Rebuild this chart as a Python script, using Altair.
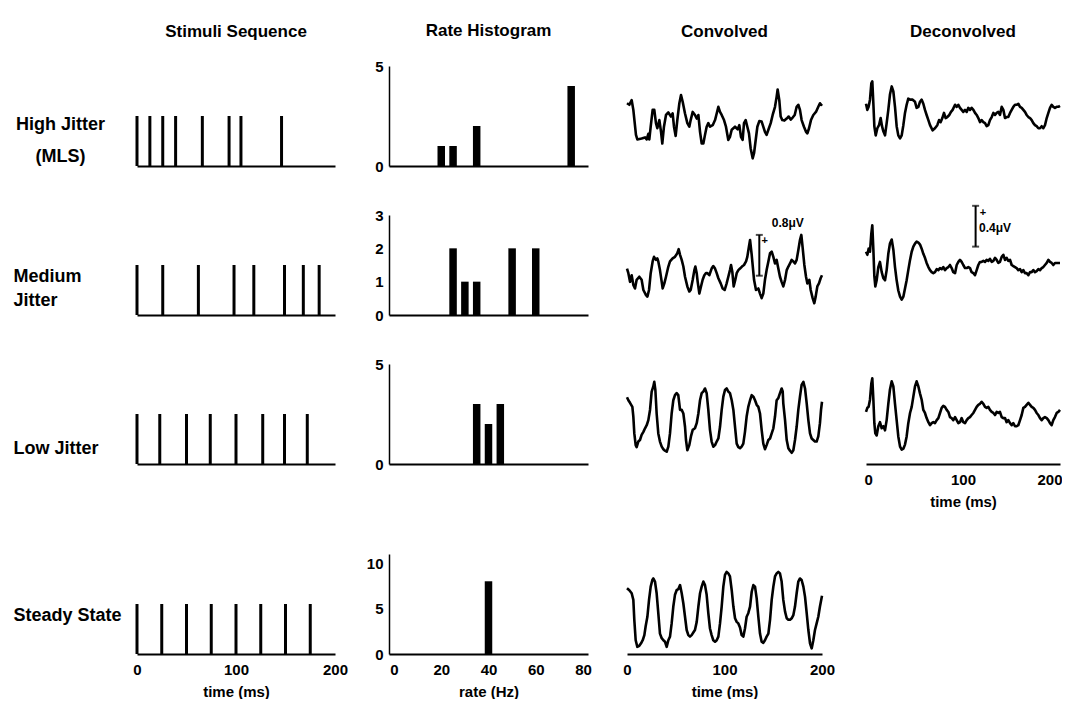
import altair as alt
import pandas as pd

FONT = "Liberation Sans"

# ---------------- text ----------------
COL_TITLES = ["Stimuli Sequence", "Rate Histogram", "Convolved", "Deconvolved"]
ROW_LABELS = [["High Jitter", "(MLS)"], ["Medium", "Jitter"], "Low Jitter", "Steady State"]

# ---------------- column 1: stimulus onset times (ms) ----------------
stim_high = [0, 13, 26, 39, 66, 93, 105, 146]
stim_medium = [0, 26, 62, 98, 118, 149, 168, 184]
stim_low = [0, 23, 50, 74, 100, 127, 149, 172]
stim_steady = [0, 25, 50, 75, 100, 125, 150, 175]
stim_amp = 1

# ---------------- column 2: rate histograms ----------------
rate_high = [20, 25, 35, 75]
count_high = [1, 1, 2, 4]
rate_medium = [25, 30, 35, 50, 60]
count_medium = [2, 1, 1, 2, 2]
rate_low = [35, 40, 45]
count_low = [3, 2, 3]
rate_steady = [40]
count_steady = [8]
hist_ymax = [5, 3, 5, 11]
hist_yticks = [[0, 5], [0, 1, 2, 3], [0, 5], [0, 5, 10]]
rate_ticks = [0, 20, 40, 60, 80]
time_ticks = [0, 100, 200]

# ---------------- column 3: convolved responses (uV) ----------------
conv_high_t = [0, 2.4, 4.8, 6.5, 9.2, 10.6, 15, 18.5, 20.2, 21.9,
               22.9, 24.3, 26.3, 28, 29.7, 31.1, 33.2, 34.9, 36.2, 37.9,
               40, 42.4, 45.1, 46.8, 48.2, 49.9, 51.6, 53.7, 55.4, 57.1,
               59.5, 61.9, 63.9, 65.3, 67.4, 69.7, 71.5, 73.2, 74.9, 76.6,
               78.3, 80, 81.7, 83.4, 85.1, 87.9, 90.3, 92, 93.7, 95.4,
               97.1, 99.5, 101.5, 103.9, 105.6, 107.4, 110.8, 113.5, 115.2, 116.9,
               118.6, 120, 121.7, 123.4, 125.1, 126.8, 128.9, 130.3, 132, 133.7,
               135.7, 138.1, 141.5, 143.2, 145, 147.4, 149.4, 151.8, 153.5, 154.5,
               156.2, 157.6, 159.3, 161.4, 163.8, 165.8, 167.9, 169.9, 172, 174,
               175.7, 177.4, 179.1, 181.5, 183.6, 185, 186.7, 188.7, 191.1, 193.8,
               196.2, 197.9, 200]
conv_high_v = [0.25, 0.22, 0.31, 0.12, -0.37, -0.46, -0.44, -0.42, -0.46, -0.35,
               -0.46, -0.21, 0.12, 0.12, -0.14, -0.24, -0.08, -0.31, -0.54, -0.21,
               0.02, 0.07, -0.01, 0.05, -0.21, -0.39, -0.08, 0.25, 0.41, 0.28,
               0.05, -0.14, -0.21, -0.08, 0.08, 0.02, -0.05, 0.02, -0.31, -0.54,
               -0.54, -0.37, -0.21, -0.14, -0.21, -0.18, -0.08, 0.05, 0.18, 0.08,
               0.02, -0.08, -0.21, -0.47, -0.41, -0.27, -0.21, -0.26, -0.18, -0.41,
               -0.47, -0.14, -0.08, -0.21, -0.34, -0.63, -0.83, -0.73, -0.47, -0.21,
               -0.10, -0.11, -0.31, -0.37, -0.27, -0.14, 0.02, 0.18, 0.38, 0.52,
               0.31, -0.01, -0.08, -0.09, -0.05, -0.01, -0.07, -0.03, 0.02, 0.18,
               0.22, 0.12, -0.08, -0.21, -0.31, -0.34, -0.24, -0.08, 0.02, 0.08,
               0.18, 0.25, 0.20]

conv_med_t = [0, 1.4, 3.1, 4.8, 6.5, 8.2, 9.9, 12.6, 15, 16.8,
              19.5, 20.9, 22.6, 24.3, 26.3, 27.7, 29.7, 31.1, 32.1, 33.8,
              35.6, 36.6, 38.3, 40, 42.4, 44.1, 46.8, 49.2, 51.6, 53,
              54.4, 56.1, 57.8, 59.5, 61.9, 63.9, 65.3, 67.4, 69.1, 70.1,
              71.5, 72.5, 74.2, 75.9, 77.6, 79.3, 81, 82.4, 84.4, 86.8,
              88.5, 90.3, 92, 93.7, 96.1, 98.1, 100.2, 102.2, 103.9, 105.6,
              106.7, 108, 109.4, 111.1, 112.5, 114.2, 115.9, 117.9, 120, 122.1,
              123.4, 124.8, 126.2, 127.9, 130.3, 132.3, 134.7, 136.4, 138.1, 139.8,
              141.5, 143.2, 145, 146.7, 148.4, 150.1, 151.8, 153.5, 155.2, 156.9,
              158.6, 160.3, 162.1, 163.8, 165.5, 167.2, 168.9, 170.6, 172.3, 174,
              175.7, 177.4, 178.8, 180.2, 181.9, 183.6, 185, 187, 188.4, 190.4,
              192.1, 193.5, 195.2, 196.9, 198.6, 200]
conv_med_v = [-0.07, -0.16, -0.33, -0.20, -0.39, -0.46, -0.29, -0.23, -0.29, -0.49,
              -0.59, -0.62, -0.49, -0.16, 0.07, 0.16, 0.10, 0.13, 0.07, -0.10,
              -0.33, -0.46, -0.36, -0.23, -0.03, 0.07, 0.13, 0.16, 0.23, 0.31,
              0.20, 0.10, -0.03, -0.23, -0.42, -0.52, -0.49, -0.29, -0.10, -0.03,
              -0.16, -0.33, -0.56, -0.42, -0.29, -0.20, -0.16, -0.16, -0.20, -0.07,
              -0.02, -0.07, -0.16, -0.26, -0.36, -0.46, -0.49, -0.36, -0.23, -0.10,
              0.0, -0.13, -0.42, -0.29, -0.16, -0.10, -0.07, -0.03, 0.0, 0.07,
              0.16, 0.33, 0.49, 0.20, -0.29, -0.49, -0.46, -0.56, -0.65, -0.56,
              -0.29, -0.10, 0.07, 0.23, 0.26, 0.16, 0.03, 0.10, -0.07, -0.23,
              -0.33, -0.42, -0.29, -0.10, -0.03, 0.03, 0.10, 0.07, 0.03, 0.10,
              0.29, 0.49, 0.59, 0.33, 0.0, -0.23, -0.36, -0.29, -0.49, -0.65,
              -0.75, -0.62, -0.42, -0.36, -0.26, -0.20]

conv_low_t = [0, 1.4, 3.1, 5.5, 6.5, 7.5, 8.9, 9.9, 11.6, 13.3,
              15, 16.8, 18.5, 20.2, 21.9, 23.6, 25.3, 27, 28, 29.1,
              30.4, 32.1, 33.8, 35.6, 37.3, 39, 40.7, 42.4, 44.1, 45.8,
              47.5, 49.2, 50.9, 52.6, 54.4, 56.1, 57.8, 59.5, 60.5, 61.9,
              63.9, 65.6, 67.4, 69.7, 71.5, 73.2, 74.9, 76.6, 78.3, 80,
              81.7, 83.4, 85.1, 86.8, 88.5, 90.3, 92, 93.7, 95.4, 97.1,
              98.8, 100.5, 102.2, 103.9, 105.6, 107.4, 109.1, 110.8, 112.5, 114.2,
              115.9, 117.6, 119.3, 121, 122.7, 124.4, 126.2, 127.9, 129.6, 131.3,
              133, 134.7, 136.4, 138.1, 139.8, 141.5, 143.2, 145, 146.7, 148.4,
              150.1, 151.8, 153.5, 155.2, 156.9, 158.6, 159.7, 160.3, 162.1, 163.8,
              165.5, 167.2, 168.9, 170.6, 172.3, 174, 175.7, 177.4, 179.1, 180.9,
              182.6, 184.3, 186, 187.7, 189.4, 191.1, 192.8, 194.5, 196.2, 197.9,
              199, 200]
conv_low_v = [0.33, 0.27, 0.22, 0.14, -0.05, -0.38, -0.61, -0.65, -0.54, -0.51,
              -0.41, -0.35, -0.28, -0.22, -0.12, 0.08, 0.44, 0.54, 0.63, 0.47,
              0.01, -0.38, -0.54, -0.64, -0.69, -0.72, -0.74, -0.64, -0.38, 0.01,
              0.27, 0.37, 0.41, 0.37, 0.08, 0.08, 0.01, -0.25, -0.51, -0.71,
              -0.61, -0.44, -0.31, -0.28, -0.18, 0.01, 0.27, 0.41, 0.44, 0.50,
              0.41, 0.08, -0.31, -0.54, -0.64, -0.61, -0.54, -0.48, -0.25, 0.08,
              0.34, 0.47, 0.50, 0.44, 0.41, 0.27, 0.08, -0.25, -0.58, -0.65,
              -0.67, -0.64, -0.58, -0.35, -0.05, 0.14, 0.27, 0.37, 0.34, 0.27,
              0.18, 0.14, 0.01, -0.31, -0.58, -0.69, -0.61, -0.51, -0.48, -0.38,
              -0.28, -0.05, 0.27, 0.31, 0.41, 0.50, 0.44, 0.21, -0.12, -0.51,
              -0.67, -0.72, -0.76, -0.71, -0.51, -0.25, 0.08, 0.34, 0.57, 0.63,
              0.50, 0.21, -0.12, -0.38, -0.48, -0.51, -0.54, -0.54, -0.44, -0.18,
              0.08, 0.24]

conv_ss_t = [0, 2.4, 4.8, 6.5, 7.5, 8.9, 10.6, 12.6, 14.4, 16.1,
             17.8, 19.1, 20.9, 22.6, 24.3, 26, 27, 28.7, 30.4, 32.1,
             33.8, 35.6, 37.3, 39, 40.7, 42.4, 44.1, 45.8, 47.5, 49.2,
             50.9, 52.6, 54.4, 56.1, 57.8, 59.5, 61.2, 62.9, 64.6, 66.3,
             68, 69.7, 71.5, 73.2, 74.9, 76.6, 78.3, 80, 81.7, 83.4,
             85.1, 86.8, 88.5, 90.3, 92, 93.7, 95.4, 97.1, 98.8, 100.5,
             102.2, 103.9, 105.6, 107.4, 109.1, 110.8, 112.5, 114.2, 115.9, 117.6,
             119.3, 121, 122.7, 124.4, 126.2, 127.9, 129.6, 131.3, 133, 134.7,
             136.4, 138.1, 139.8, 141.5, 143.2, 145, 146.7, 148.4, 150.1, 151.8,
             153.5, 155.2, 156.9, 158.6, 160.3, 162.1, 163.8, 165.5, 167.2, 168.9,
             170.6, 172.3, 174, 175.7, 177.4, 179.1, 180.9, 182.6, 184.3, 186,
             187.7, 189.4, 191.1, 192.8, 194.5, 196.2, 197.9, 200]
conv_ss_v = [0.31, 0.27, 0.21, 0.08, -0.31, -0.71, -0.84, -0.82, -0.77, -0.71,
             -0.61, -0.44, -0.25, 0.08, 0.34, 0.47, 0.50, 0.44, 0.21, -0.18,
             -0.58, -0.67, -0.71, -0.74, -0.84, -0.71, -0.64, -0.38, -0.05, 0.18,
             0.27, 0.29, 0.37, 0.21, 0.01, -0.25, -0.51, -0.61, -0.64, -0.61,
             -0.56, -0.51, -0.35, -0.05, 0.21, 0.34, 0.44, 0.37, 0.18, -0.18,
             -0.48, -0.61, -0.71, -0.74, -0.71, -0.64, -0.38, -0.05, 0.34, 0.57,
             0.63, 0.60, 0.54, 0.27, -0.05, -0.28, -0.35, -0.38, -0.46, -0.61,
             -0.64, -0.48, -0.25, -0.18, -0.05, 0.24, 0.37, 0.34, 0.11, -0.25,
             -0.58, -0.74, -0.76, -0.71, -0.64, -0.58, -0.31, 0.08, 0.34, 0.54,
             0.60, 0.63, 0.60, 0.44, 0.08, -0.15, -0.28, -0.31, -0.31, -0.28,
             -0.22, -0.05, 0.21, 0.44, 0.50, 0.47, 0.34, 0.14, -0.18, -0.51,
             -0.77, -0.87, -0.71, -0.51, -0.38, -0.25, -0.05, 0.16]

# ---------------- column 4: deconvolved responses (uV) ----------------
deconv_high_t = [0, 1.4, 2.7, 4.1, 5.5, 6.5, 7.6, 8.6, 10, 11.7,
                 13.4, 15.1, 16.5, 17.9, 19.6, 21.3, 23, 24.7, 26.5, 28.2,
                 29.9, 31.6, 33.3, 35.1, 36.8, 38.5, 40.2, 41.9, 43.6, 45.4,
                 48.1, 50.5, 52.2, 54, 55.7, 57.4, 59.1, 60.8, 62.5, 64.3,
                 66, 68.7, 71.1, 73.5, 75.3, 77, 78.7, 80.4, 82.1, 83.8,
                 85.9, 87.6, 89.3, 91.8, 93.5, 95.2, 96.9, 98.6, 100.3, 102.1,
                 103.8, 105.5, 107.2, 108.9, 110.7, 112.4, 114.1, 115.8, 117.5, 119.2,
                 121, 122.7, 124.4, 126.1, 127.8, 129.6, 131.3, 133, 134.7, 136.4,
                 138.1, 139.9, 141.6, 143.3, 145, 146.7, 148.5, 150.2, 151.9, 153.6,
                 155.3, 157, 158.8, 160.5, 162.2, 163.9, 165.6, 167.4, 169.1, 170.8,
                 172.5, 174.2, 175.9, 177.7, 179.4, 181.1, 182.8, 184.5, 186.3, 188,
                 189.7, 191.4, 193.1, 194.8, 196.6, 198.3, 200]
deconv_high_v = [0.12, 0.06, 0.09, 0.16, 0.32, 0.34, 0.12, -0.10, -0.19, -0.12,
                 -0.09, -0.02, -0.10, -0.15, -0.19, -0.07, 0.06, 0.21, 0.29, 0.24,
                 0.09, -0.10, -0.19, -0.22, -0.19, -0.09, 0.03, 0.11, 0.17, 0.16,
                 0.16, 0.14, 0.08, 0.09, 0.14, 0.16, 0.12, 0.06, 0.01, -0.04,
                 -0.09, -0.14, -0.12, -0.09, -0.04, -0.06, -0.02, 0.03, -0.02, -0.01,
                 0.01, 0.04, 0.06, 0.11, 0.09, 0.11, 0.08, 0.06, 0.04, 0.06,
                 0.04, 0.08, 0.06, 0.08, 0.06, 0.03, 0.01, -0.02, -0.06, -0.04,
                 -0.06, -0.07, -0.10, -0.09, -0.04, -0.01, 0.03, 0.01, 0.03, 0.04,
                 0.01, 0.09, 0.06, -0.02, -0.01, -0.01, 0.03, 0.06, 0.09, 0.11,
                 0.11, 0.12, 0.09, 0.08, 0.06, 0.04, 0.01, -0.01, -0.02, -0.04,
                 -0.07, -0.09, -0.10, -0.12, -0.12, -0.10, -0.12, -0.09, -0.02, 0.03,
                 0.08, 0.11, 0.09, 0.08, 0.09, 0.09, 0.10]

deconv_t = [0, 1.4, 2.7, 4.1, 5.5, 6.5, 7.6, 8.6, 9.6, 11,
            12.7, 14.4, 16.2, 17.9, 19.6, 21.3, 23, 24.7, 26.5, 28.2,
            29.9, 31.6, 33.3, 35.1, 36.8, 38.5, 40.2, 41.9, 43.6, 45.4,
            47.1, 48.8, 50.5, 52.2, 54, 55.7, 57.4, 59.1, 60.8, 62.5,
            64.3, 66, 67.7, 69.4, 71.1, 72.9, 74.6, 76.3, 78, 79.7,
            81.4, 83.2, 84.9, 86.6, 88.3, 90, 91.8, 93.5, 95.2, 96.9,
            98.6, 100.3, 102.1, 103.8, 105.5, 107.2, 108.9, 110.7, 112.4, 114.1,
            115.8, 117.5, 119.2, 121, 122.7, 124.4, 126.1, 127.8, 129.6, 131.3,
            133, 134.7, 136.4, 138.1, 139.9, 141.6, 143.3, 145, 146.7, 148.5,
            150.2, 151.9, 153.6, 155.3, 157, 158.8, 160.5, 162.2, 163.9, 165.6,
            167.4, 169.1, 170.8, 172.5, 174.2, 175.9, 177.7, 179.4, 181.1, 182.8,
            184.5, 186.3, 188, 189.7, 191.4, 193.1, 194.8, 196.6, 198.3, 200]
deconv_med_v = [0.13, 0.10, 0.16, 0.13, 0.31, 0.39, 0.15, -0.11, -0.21, -0.15,
                -0.02, 0.03, -0.07, -0.13, -0.15, -0.05, 0.11, 0.21, 0.25, 0.15,
                -0.02, -0.15, -0.25, -0.31, -0.34, -0.31, -0.23, -0.15, -0.05, 0.05,
                0.13, 0.18, 0.21, 0.23, 0.22, 0.20, 0.16, 0.11, 0.07, 0.02,
                -0.02, -0.05, -0.07, -0.08, -0.07, -0.04, -0.05, -0.03, -0.04, -0.02,
                -0.05, -0.03, -0.02, 0.0, -0.03, -0.07, -0.08, 0.0, 0.03, 0.05,
                0.03, 0.0, -0.03, -0.03, -0.02, -0.03, -0.07, -0.08, -0.10, -0.05,
                0.0, 0.03, 0.03, 0.04, 0.03, 0.05, 0.04, 0.06, 0.03, 0.04,
                0.07, 0.05, 0.02, 0.03, 0.08, 0.10, 0.05, 0.07, 0.04, 0.05,
                0.0, -0.01, -0.02, -0.03, -0.05, -0.04, -0.07, -0.05, -0.08, -0.08,
                -0.10, -0.07, -0.07, -0.05, -0.07, -0.06, -0.04, -0.05, -0.03, -0.02,
                0.0, 0.02, 0.05, 0.03, 0.02, 0.0, 0.02, 0.02, 0.02, 0.02]
deconv_low_v = [0.02, 0.06, 0.07, 0.14, 0.30, 0.35, 0.14, -0.09, -0.19, -0.21,
                -0.12, -0.08, -0.14, -0.12, -0.16, -0.06, 0.10, 0.24, 0.32, 0.27,
                0.10, -0.06, -0.22, -0.32, -0.35, -0.34, -0.30, -0.22, -0.09, 0.01,
                0.07, 0.17, 0.27, 0.32, 0.27, 0.20, 0.14, 0.04, 0.01, -0.04,
                -0.08, -0.11, -0.09, -0.08, -0.09, -0.06, -0.04, 0.01, 0.06, 0.08,
                0.07, 0.04, 0.02, -0.03, -0.04, -0.06, -0.03, -0.06, -0.09, -0.08,
                -0.04, -0.08, -0.09, -0.06, -0.04, -0.03, -0.01, 0.01, 0.04, 0.07,
                0.09, 0.10, 0.12, 0.10, 0.07, 0.06, 0.07, 0.04, 0.02, 0.01,
                -0.01, 0.02, 0.01, 0.02, -0.03, -0.04, -0.04, -0.08, -0.06, -0.09,
                -0.11, -0.09, -0.12, -0.12, -0.11, -0.06, -0.01, 0.06, 0.07, 0.09,
                0.11, 0.09, 0.07, 0.06, 0.04, 0.01, -0.01, -0.04, -0.06, -0.04,
                -0.03, -0.04, -0.06, -0.09, -0.11, -0.06, -0.03, 0.01, 0.02, 0.04]

# scale bars (time ms, low/high uV), "+" marker and label anchors
conv_bar = {"t": 135.7, "lo": -0.21, "hi": 0.59, "pt": 141.2, "pv": 0.48,
            "lt": 148.5, "lv": 0.82, "text": "0.8\u03bcV"}
deconv_bar = {"t": 113.0, "lo": 0.18, "hi": 0.58, "pt": 120.6, "pv": 0.51,
              "lt": 116.5, "lv": 0.36, "text": "0.4\u03bcV"}

CONV_DOM = [-0.98, 0.98]
DECONV_DOM = [-0.49, 0.49]

# ---------------- layout ----------------
COLW = [198, 199, 195, 194]
GAPW = [54, 39, 44]
ROWH = 100
GAPH = [49, 49, 90]
TITLE_OFFSET = [12, 6, 12, 12]

LABEL_POS = [dict(align="center", x=-77, y=63, lh=32),
             dict(align="left", x=-124, y=66, lh=24),
             dict(align="left", x=-124, y=89, lh=24),
             dict(align="left", x=-124, y=66, lh=24)]

TXT = dict(labelFont=FONT, labelFontSize=15, labelFontWeight="bold", labelColor="black",
           titleFont=FONT, titleFontSize=15, titleFontWeight="bold", titleColor="black")


def col_title(i):
    return alt.Title(COL_TITLES[i], font=FONT, fontSize=17, fontWeight="bold",
                     color="black", frame="group", baseline="alphabetic",
                     offset=TITLE_OFFSET[i], anchor="middle")


def bottom_axis(values, show, flush=False):
    if show:
        extra = dict(labelFlush=True, labelFlushOffset=2) if flush else dict(labelFlush=False)
        return alt.Axis(values=values, ticks=False, labelPadding=8, titlePadding=7,
                        domainWidth=2, domainColor="black", grid=False,
                        labelOverlap=False, **extra, **TXT)
    return alt.Axis(labels=False, ticks=False, domainWidth=2, domainColor="black",
                    grid=False)


def with_title(ch, r, c):
    if r == 0:
        return ch.properties(title=col_title(c))
    return ch


def spacer(w, h):
    return alt.Chart(pd.DataFrame({"z": [0]})).mark_point(opacity=0).encode(
        x=alt.value(0), y=alt.value(0)).properties(width=w, height=h)


STIMS = [stim_high, stim_medium, stim_low, stim_steady]
RATES = [(rate_high, count_high), (rate_medium, count_medium),
         (rate_low, count_low), (rate_steady, count_steady)]
CONV = [(conv_high_t, conv_high_v), (conv_med_t, conv_med_v),
        (conv_low_t, conv_low_v), (conv_ss_t, conv_ss_v)]
DECONV = [(deconv_high_t, deconv_high_v), (deconv_t, deconv_med_v),
          (deconv_t, deconv_low_v)]


def stim_panel(r):
    times = STIMS[r]
    df = pd.DataFrame({"t": times, "h": [stim_amp] * len(times)})
    last = r == 3
    lp = LABEL_POS[r]
    yax = alt.Axis(title=ROW_LABELS[r], titleAngle=0, titleAlign=lp["align"],
                   titleX=lp["x"], titleY=lp["y"], titleBaseline="alphabetic",
                   titleLineHeight=lp["lh"], titleFont=FONT, titleFontSize=18,
                   titleFontWeight="bold", titleColor="black", labels=False,
                   ticks=False, domain=False, grid=False)
    ch = alt.Chart(df).mark_rule(color="black", strokeWidth=3).encode(
        x=alt.X("t:Q", scale=alt.Scale(domain=[0, 200], nice=False),
                axis=bottom_axis(time_ticks, last),
                title="time (ms)" if last else None),
        y=alt.Y("h:Q", scale=alt.Scale(domain=[0, 2], nice=False), axis=yax),
        y2=alt.datum(0),
    ).properties(width=COLW[0], height=ROWH)
    return with_title(ch, r, 0)


def hist_panel(r):
    rates, counts = RATES[r]
    df = pd.DataFrame({"rate": rates, "n": counts})
    last = r == 3
    ch = alt.Chart(df).mark_bar(color="black", size=7.5).encode(
        x=alt.X("rate:Q", scale=alt.Scale(domain=[0, 80], nice=False),
                axis=bottom_axis(rate_ticks, last),
                title="rate (Hz)" if last else None),
        y=alt.Y("n:Q", scale=alt.Scale(domain=[0, hist_ymax[r]], nice=False),
                axis=alt.Axis(values=hist_yticks[r], ticks=False, labelPadding=6,
                              domainWidth=1.5, domainColor="black", grid=False,
                              **TXT),
                title=None),
    ).properties(width=COLW[1], height=ROWH)
    return with_title(ch, r, 1)


def trace_panel(t, v, dom, width, show_axis, bar=None, flush=False):
    xs = alt.Scale(domain=[0, 200], nice=False)
    ys = alt.Scale(domain=dom, nice=False, zero=False)
    df = pd.DataFrame({"t": t, "v": v})
    if show_axis:
        xenc = alt.X("t:Q", scale=xs, axis=bottom_axis(time_ticks, True, flush),
                     title="time (ms)")
    else:
        xenc = alt.X("t:Q", scale=xs, axis=None)
    line = alt.Chart(df).mark_line(color="black", strokeWidth=2.6,
                                   strokeJoin="round").encode(
        x=xenc, y=alt.Y("v:Q", scale=ys, axis=None))
    layers = [line]
    if bar is not None:
        bdf = pd.DataFrame({"t": [bar["t"]], "lo": [bar["lo"]], "hi": [bar["hi"]]})
        cdf = pd.DataFrame({"t": [bar["t"], bar["t"]], "v": [bar["lo"], bar["hi"]]})
        pdf = pd.DataFrame({"t": [bar["pt"]], "v": [bar["pv"]]})
        ldf = pd.DataFrame({"t": [bar["lt"]], "v": [bar["lv"]], "s": [bar["text"]]})
        X = alt.X("t:Q", scale=xs, axis=None)
        layers.append(alt.Chart(bdf).mark_rule(color="black", strokeWidth=2).encode(
            x=X, y=alt.Y("lo:Q", scale=ys, axis=None), y2="hi:Q"))
        layers.append(alt.Chart(cdf).mark_tick(color="black", orient="horizontal",
                                               size=7, thickness=2).encode(
            x=X, y=alt.Y("v:Q", scale=ys, axis=None)))
        layers.append(alt.Chart(pdf).mark_text(text="+", font=FONT, fontSize=11,
                                               fontWeight="bold", color="black").encode(
            x=X, y=alt.Y("v:Q", scale=ys, axis=None)))
        layers.append(alt.Chart(ldf).mark_text(font=FONT, fontSize=12, fontWeight="bold",
                                               color="black", align="left",
                                               baseline="middle").encode(
            x=X, y=alt.Y("v:Q", scale=ys, axis=None), text="s:N"))
    return alt.layer(*layers).properties(width=width, height=ROWH)


def conv_panel(r):
    t, v = CONV[r]
    ch = trace_panel(t, v, CONV_DOM, COLW[2], r == 3, conv_bar if r == 1 else None)
    return with_title(ch, r, 2)


def deconv_panel(r):
    if r == 3:
        return spacer(COLW[3], ROWH)
    t, v = DECONV[r]
    ch = trace_panel(t, v, DECONV_DOM, COLW[3], r == 2,
                     deconv_bar if r == 1 else None, flush=True)
    return with_title(ch, r, 3)


cells = []
for r in range(4):
    panels = [stim_panel(r), hist_panel(r), conv_panel(r), deconv_panel(r)]
    for c in range(4):
        cells.append(panels[c])
        if c < 3:
            cells.append(spacer(GAPW[c], ROWH))
    if r < 3:
        for c in range(4):
            cells.append(spacer(COLW[c], GAPH[r]))
            if c < 3:
                cells.append(spacer(GAPW[c], GAPH[r]))

chart = alt.concat(*cells, columns=7, spacing=0, bounds="flush", align="each").properties(
    padding={"left": 5, "top": 14, "right": 0, "bottom": 0}
).configure(font=FONT, view=alt.ViewConfig(stroke=None))

chart.save("out.html", embed_options={"renderer": "svg", "actions": False})
